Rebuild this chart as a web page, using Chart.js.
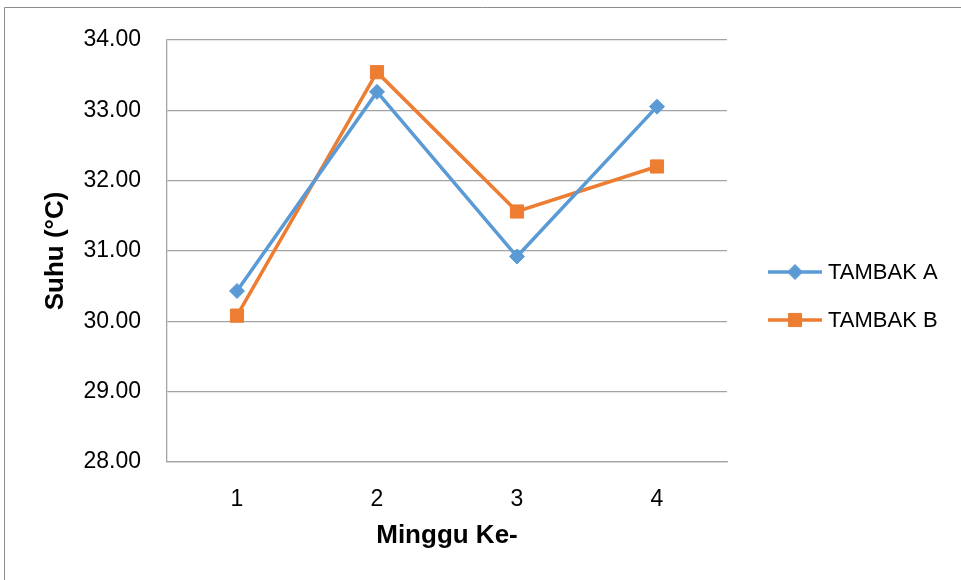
<!DOCTYPE html>
<html>
<head>
<meta charset="utf-8">
<title>Suhu Tambak</title>
<script src="https://cdn.jsdelivr.net/npm/chart.js@4/dist/chart.umd.min.js"></script>
<style>
  html, body { margin: 0; padding: 0; background: #fff; }
  #wrap { width: 961px; height: 580px; }
</style>
</head>
<body>
<div id="wrap"><canvas id="suhuChart" width="961" height="580"></canvas></div>
<script>
// ---------- DATA ----------
const minggu = ["1", "2", "3", "4"];
const tambakA = [30.43, 33.26, 30.92, 33.05];
const tambakB = [30.08, 33.54, 31.56, 32.20];
const seriesNames = ["TAMBAK A", "TAMBAK B"];

const blue = "#5b9bd5";
const orange = "#ed7d31";
const gridGray = "#a3a3a3";

// thin frame around the whole figure (left + top edges visible)
const framePlugin = {
    id: "frame",
    beforeDraw(chart) {
        const ctx = chart.ctx;
        ctx.save();
        ctx.strokeStyle = "#8c8c8c";
        ctx.lineWidth = 1;
        ctx.beginPath();
        ctx.moveTo(4.5, 580);
        ctx.lineTo(4.5, 7.5);
        ctx.lineTo(961, 7.5);
        ctx.stroke();
        ctx.restore();
    }
};

// legend on the right: line sample with the marker in the middle
const sideLegend = {
    id: "sideLegend",
    afterDraw(chart) {
        const ctx = chart.ctx;
        const area = chart.chartArea;
        const x0 = area.right + 41;
        const x1 = x0 + 54;
        const rows = [272, 320];
        ctx.save();
        chart.data.datasets.forEach((ds, i) => {
            const y = rows[i];
            ctx.strokeStyle = ds.borderColor;
            ctx.lineWidth = 3.5;
            ctx.beginPath();
            ctx.moveTo(x0, y);
            ctx.lineTo(x1, y);
            ctx.stroke();
            ctx.fillStyle = ds.backgroundColor;
            ctx.strokeStyle = ds.borderColor;
            ctx.lineWidth = 1;
            Chart.helpers.drawPoint(ctx, {
                pointStyle: ds.pointStyle,
                radius: ds.pointRadius,
                rotation: 0,
                borderWidth: 1
            }, (x0 + x1) / 2, y);
            ctx.fillStyle = "#000";
            ctx.font = "22px 'Liberation Sans', Arial, sans-serif";
            ctx.textBaseline = "middle";
            ctx.textAlign = "left";
            ctx.fillText(ds.label, x1 + 6, y + 1);
        });
        ctx.restore();
    }
};

const ctx = document.getElementById("suhuChart").getContext("2d");
new Chart(ctx, {
    type: "line",
    data: {
        labels: minggu,
        datasets: [
            {
                label: seriesNames[0],
                data: tambakA,
                borderColor: blue,
                backgroundColor: blue,
                borderWidth: 3.5,
                pointStyle: "rectRot",
                pointRadius: 7.5,
                pointBorderWidth: 1,
                tension: 0
            },
            {
                label: seriesNames[1],
                data: tambakB,
                borderColor: orange,
                backgroundColor: orange,
                borderWidth: 3.5,
                pointStyle: "rect",
                pointRadius: 9.3,
                pointBorderWidth: 1,
                tension: 0
            }
        ]
    },
    options: {
        responsive: false,
        animation: false,
        layout: { padding: { left: 20, top: 37, right: 234, bottom: 0 } },
        plugins: {
            legend: { display: false },
            tooltip: { enabled: false }
        },
        scales: {
            x: {
                offset: true,
                grid: { display: false, drawTicks: false, offset: true },
                border: { color: gridGray, width: 1.3 },
                ticks: {
                    color: "#000",
                    padding: 24,
                    font: { family: "'Liberation Sans', Arial, sans-serif", size: 23 }
                },
                title: {
                    display: true,
                    text: "Minggu Ke-",
                    color: "#000",
                    padding: { top: 0, bottom: 29 },
                    font: { family: "'Liberation Sans', Arial, sans-serif", size: 26, weight: "bold" }
                },
                afterFit(scale) { scale.height = 118; }
            },
            y: {
                min: 28,
                max: 34,
                grid: { color: gridGray, lineWidth: 1.3, drawTicks: false },
                border: { color: gridGray, width: 1.3 },
                ticks: {
                    stepSize: 1,
                    color: "#000",
                    padding: 26,
                    font: { family: "'Liberation Sans', Arial, sans-serif", size: 23 },
                    callback: v => v.toFixed(2)
                },
                title: {
                    display: true,
                    text: "Suhu (°C)",
                    color: "#000",
                    padding: { top: 20, bottom: 0 },
                    font: { family: "'Liberation Sans', Arial, sans-serif", size: 26, weight: "bold" }
                },
                afterFit(scale) { scale.width = 147; }
            }
        }
    },
    plugins: [framePlugin, sideLegend]
});
</script>
</body>
</html>
